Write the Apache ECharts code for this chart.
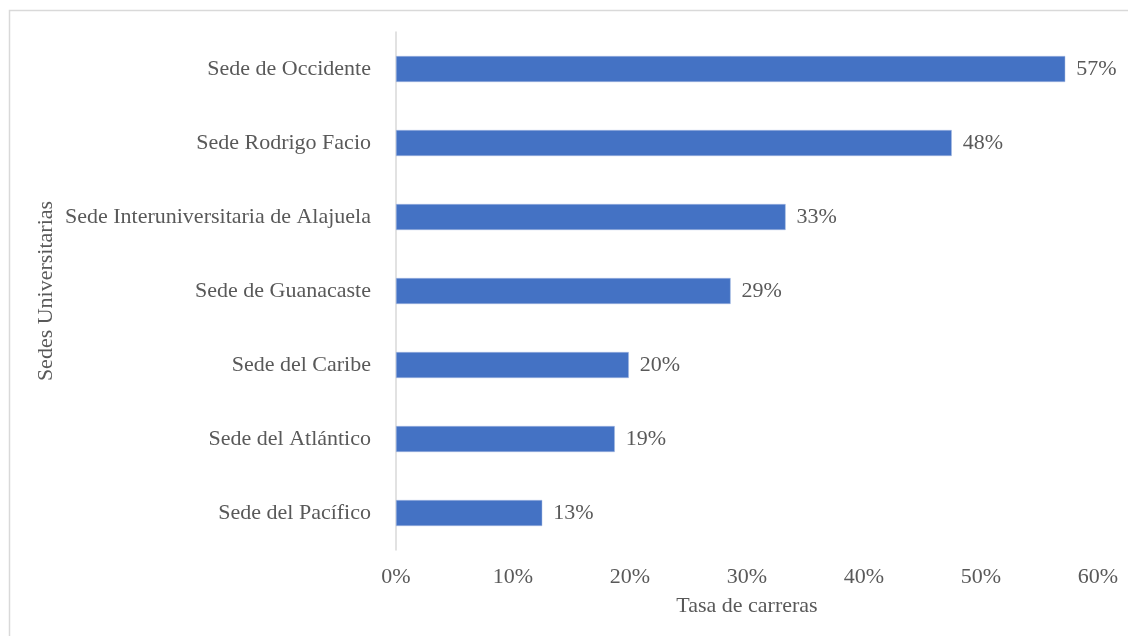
<!DOCTYPE html>
<html>
<head>
<meta charset="utf-8">
<script src="https://cdn.jsdelivr.net/npm/echarts@6/dist/echarts.min.js"></script>
<style>
  html, body { margin: 0; padding: 0; background: #fff; }
  #chart { width: 1128px; height: 636px; }
</style>
</head>
<body>
<div id="chart"></div>
<script>
// categories bottom -> top (category axis on y starts at the bottom)
const sedes = [
  'Sede del Pacífico',
  'Sede del Atlántico',
  'Sede del Caribe',
  'Sede de Guanacaste',
  'Sede Interuniversitaria de Alajuela',
  'Sede Rodrigo Facio',
  'Sede de Occidente'
]
const tasa = [12.5, 18.7, 19.9, 28.6, 33.3, 47.5, 57.2]
const xTicks = [0, 10, 20, 30, 40, 50, 60]

const textColor = '#595959'
const font = '"Liberation Serif", "Times New Roman", serif'
const fs = 22

const chart = echarts.init(document.getElementById('chart'), null, { renderer: 'canvas' })

chart.setOption({
  animation: false,
  textStyle: { fontFamily: font, color: textColor },
  graphic: [{
    type: 'rect',
    shape: { x: 9.5, y: 10.5, width: 1140, height: 640 },
    style: { fill: 'none', stroke: '#d9d9d9', lineWidth: 1.5 },
    silent: true
  }],
  grid: { left: 396, right: 30, top: 32, bottom: 86, containLabel: false },
  xAxis: {
    type: 'value',
    min: xTicks[0],
    max: xTicks[xTicks.length - 1],
    interval: 10,
    name: 'Tasa de carreras',
    nameLocation: 'middle',
    nameGap: 45,
    nameTextStyle: { fontFamily: font, fontSize: fs, color: textColor },
    axisLine: { show: false },
    axisTick: { show: false },
    splitLine: { show: false },
    axisLabel: {
      fontFamily: font, fontSize: fs, color: textColor, margin: 16,
      formatter: v => v + '%'
    }
  },
  yAxis: {
    type: 'category',
    data: sedes,
    name: 'Sedes Universitarias',
    nameLocation: 'middle',
    nameGap: 339,
    nameMoveOverlap: false,
    nameTextStyle: { fontFamily: font, fontSize: fs, color: textColor },
    axisLine: { show: true, lineStyle: { color: '#d9d9d9', width: 1.5 } },
    axisTick: { show: false },
    axisLabel: { fontFamily: font, fontSize: fs, color: textColor, margin: 25 }
  },
  series: [{
    type: 'bar',
    data: tasa,
    barWidth: 26,
    itemStyle: { color: '#4472c4', borderColor: '#a9bde3', borderWidth: 0.5 },
    label: {
      show: true,
      position: 'right',
      distance: 11,
      fontFamily: font,
      fontSize: fs,
      color: textColor,
      formatter: p => Math.round(p.value) + '%'
    }
  }]
})
</script>
</body>
</html>
